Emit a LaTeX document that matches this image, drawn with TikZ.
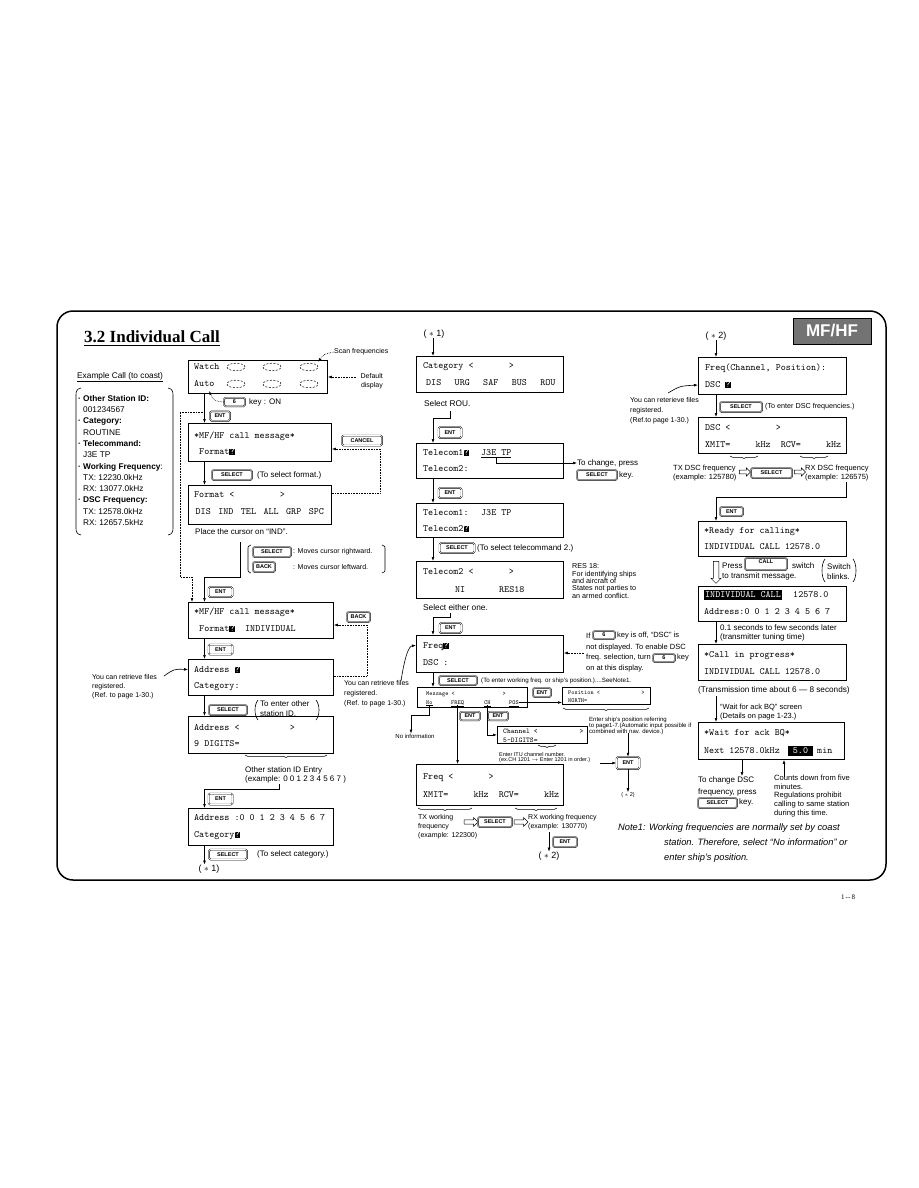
\documentclass[tikz,border=0pt]{standalone}
\usepackage{fontspec}
\setmainfont{Liberation Sans}
\newfontfamily\titlefont{Liberation Serif}
\usetikzlibrary{arrows.meta,decorations.pathreplacing,shapes.arrows}

\newcommand\curs{{\setlength\fboxsep{0.3pt}\colorbox{black}{\textcolor{white}{?}}}}
\newcommand\lcdf{\fontsize{9.6}{10}\ttfamily}
\newcommand\lcds{\fontsize{6}{7}\ttfamily}
\newcommand\lcdm{\fontsize{7.2}{8}\ttfamily}
\newcommand\keyat[6]{\node[keybox, minimum width=#4pt, minimum height=#5pt] (#1) at (#2,#3) {#6};}

\tikzset{
  lcd/.style={draw, line width=0.8pt, inner sep=0pt, anchor=north west},
  lt/.style={font=\lcdf, anchor=west, inner sep=0pt, text height=7pt, text depth=1.5pt},
  lts/.style={font=\lcds, anchor=west, inner sep=0pt, text height=4.5pt, text depth=1pt},
  ltm/.style={font=\lcdm, anchor=west, inner sep=0pt, text height=5.2pt, text depth=1.2pt},
  keybox/.style={draw, line width=0.45pt, rounded corners=1.5pt, double, double distance=0.6pt, inner sep=0pt, font=\fontsize{5.5}{6}\selectfont\bfseries},
  arr/.style={-{Latex[length=4pt,width=2.8pt]}, line width=0.6pt},
  dotarr/.style={densely dotted, -{Latex[length=4pt,width=2.8pt]}, line width=0.6pt},
  ln/.style={line width=0.6pt},
  tx/.style={inner sep=0pt, anchor=west},
  tm/.style={inner sep=0pt, anchor=north west, align=left},
  brc/.style={decorate, decoration={brace, mirror, amplitude=2.5pt}, line width=0.5pt},
  hol/.style={single arrow, draw, line width=0.5pt, inner xsep=0pt, inner ysep=1.6pt, minimum height=13pt, minimum width=8.5pt, single arrow head extend=2pt},
  dell/.style={dashed, dash pattern=on 2pt off 1.5pt, line width=0.5pt}
}

\begin{document}
\begin{tikzpicture}[x=1pt,y=-1pt]
\useasboundingbox (0,0) rectangle (918,1188);
\fill[white] (0,0) rectangle (918,1188);

% frame, title, badge
\draw[line width=1.5pt, rounded corners=16pt] (57,311) rectangle (886,880);
\node[tx, font=\titlefont\bfseries\fontsize{17}{20}\selectfont] (title) at (84,337) {3.2 Individual Call};
\draw[line width=1.3pt] ([yshift=-2pt]title.south west) -- ([yshift=-2pt]title.south east);
\node[draw, line width=1pt, fill=black!55, minimum width=78pt, minimum height=26pt, inner sep=0pt, text=white, font=\bfseries\fontsize{17}{17}\selectfont] (mfhf) at (832,331) {MF/HF};
\node[font=\titlefont\fontsize{7}{8}\selectfont, inner sep=0pt] (pg) at (848,897) {1\,--\,8};

% example list
\node[tx, font=\fontsize{8.3}{10}\selectfont] (exh) at (77,377) {\underline{Example Call (to coast)}};
\node[tm, font=\fontsize{8.3}{11.3}\selectfont] (exl) at (78,395) {%
\makebox[5pt][l]{\textbf{\textperiodcentered}}\textbf{Other Station ID:}\\
\hspace*{5pt}001234567\\
\makebox[5pt][l]{\textbf{\textperiodcentered}}\textbf{Category:}\\
\hspace*{5pt}ROUTINE\\
\makebox[5pt][l]{\textbf{\textperiodcentered}}\textbf{Telecommand:}\\
\hspace*{5pt}J3E TP\\
\makebox[5pt][l]{\textbf{\textperiodcentered}}\textbf{Working Frequency}:\\
\hspace*{5pt}TX: 12230.0kHz\\
\hspace*{5pt}RX: 13077.0kHz\\
\makebox[5pt][l]{\textbf{\textperiodcentered}}\textbf{DSC Frequency:}\\
\hspace*{5pt}TX: 12578.0kHz\\
\hspace*{5pt}RX: 12657.5kHz};
\draw[ln] (81,388) .. controls (76,389) and (76,392) .. (76,396) -- (76,527) .. controls (76,531) and (76,534) .. (81,535);
\draw[ln] (168,388) .. controls (173,389) and (173,392) .. (173,396) -- (173,527) .. controls (173,531) and (173,534) .. (168,535);

% ================= column 1 =================
\coordinate (xa) at (204.5,0);
\coordinate (xd) at (192,0);
\coordinate (xdot) at (180,0);

\node[lcd, minimum width=139pt, minimum height=33pt] (A) at (188,360) {};
\node[lt] (wA) at (194,367) {Watch};
\node[lt] (aA) at (194,384) {Auto};
\foreach \cx in {236,272,309}{\foreach \cy in {367,384}{\draw[dell] (\cx,\cy) ellipse [x radius=9pt, y radius=3.8pt];}}
\node[tx, font=\fontsize{7}{8}\selectfont] (scan) at (334,352) {Scan frequencies};
\draw[dotarr] (scan.west) .. controls (324,354) .. (318,362);
\node[inner sep=0pt, anchor=north east, align=right, font=\fontsize{7}{9}\selectfont] (dd) at (383,373) {Default\\display};
\coordinate (ddp) at (356,377);
\draw[dotarr] (ddp) -- (ddp -| A.east);

\keyat{k6a}{234.5}{402}{21}{8.5}{6}
\node[tx, font=\fontsize{8}{9}\selectfont] (k6t) at (249,402) {key : ON};
\draw[dotarr] (k6a.west) .. controls (214,401) .. (209,391);
\keyat{entA}{220}{416}{20}{9.5}{ENT}

\node[lcd, minimum width=143pt, minimum height=38pt] (B) at (188,423) {};
\node[lt] (b1) at (194,436) {*MF/HF~call~message*};
\node[lt] (b2) at (194,452) {~Format\curs};
\draw[arr] (A.south -| xa) -- (B.north -| xa);
\coordinate (brA) at (204.5,412);
\coordinate (jn) at (204.5,577);
\draw[dotarr] (brA) -- (xdot |- brA) -- (xdot |- jn) -- (jn -| xd) -- (xd |- 0,602);

\keyat{cancel}{362}{440.5}{40}{10}{CANCEL}
\keyat{selB}{232}{475}{40}{10}{SELECT}
\node[tx, font=\fontsize{8}{9}\selectfont] (selBt) at (257,475) {(To select format.)};

\node[lcd, minimum width=143pt, minimum height=39pt] (C) at (188,485) {};
\node[lt] (c1) at (194,495) {Format~<~~~~~~~~~>};
\node[lt] (c2) at (195.5,512) {DIS\hspace{7.5pt}IND\hspace{7.5pt}TEL\hspace{7.5pt}ALL\hspace{7.5pt}GRP\hspace{7.5pt}SPC};
\draw[arr] (B.south -| xa) -- (C.north -| xa);
\coordinate (cn1) at (380,493);
\coordinate (cn2) at (380,449);
\draw[dotarr] (C.east |- cn1) -- (cn1) -- (cn2) -- (B.east |- cn2);

\node[tx, font=\fontsize{8}{9}\selectfont] (place) at (195,532) {Place the cursor on ``IND''.};
\draw[ln] (251,545) .. controls (248,546) .. (248,550) -- (248,568) .. controls (248,572) .. (251,573);
\draw[ln] (382,545) .. controls (385,546) .. (385,550) -- (385,568) .. controls (385,572) .. (382,573);
\keyat{selR1}{272}{552}{38}{10}{SELECT}
\node[tx, font=\fontsize{7}{8}\selectfont] (mr) at (293,552) {: Moves cursor rightward.};
\keyat{back1}{264}{567}{22}{10}{BACK}
\node[tx, font=\fontsize{7}{8}\selectfont] (ml) at (293,567) {: Moves cursor leftward.};
\coordinate (pc) at (240,542);
\draw[arr] (pc) -- (pc |- jn) -- (jn) -- (xa |- 0,602);

\keyat{entC}{220.5}{592}{24}{10}{ENT}
\node[lcd, minimum width=145pt, minimum height=36pt] (D) at (188,602) {};
\node[lt] (d1) at (194,612) {*MF/HF~call~message*};
\node[lt] (d2) at (194,629) {~Format\curs~~INDIVIDUAL};
\keyat{back2}{358.5}{617}{23}{10}{BACK}
\keyat{entD}{220.5}{649.5}{24}{10}{ENT}
\draw[arr] (D.south -| xa) -- (xa |- 0,659);

\node[lcd, minimum width=145pt, minimum height=36pt] (E) at (188,659) {};
\node[lt] (e1) at (194,670) {Address~\curs};
\node[lt] (e2) at (194,686) {Category:};
\coordinate (bk1) at (367,676);
\coordinate (bk2) at (367,625);
\draw[dotarr] (E.east |- bk1) -- (bk1) -- (bk2) -- (D.east |- bk2);
\node[tm, font=\fontsize{7}{9}\selectfont] (ltE) at (92,674) {You can retrieve files\\registered.\\(Ref. to page 1-30.)};
\coordinate (ce1) at (164,676);
\draw[arr] (ce1) .. controls (174,669) .. ([yshift=-10.5pt]E.north west);

\keyat{selE}{228}{710}{38}{10}{SELECT}
\draw[ln] (258,700) .. controls (254,705) and (254,715) .. (258,720);
\draw[ln] (316,700) .. controls (320,705) and (320,715) .. (316,720);
\node[tm, font=\fontsize{8}{10}\selectfont] (selEt) at (260,700) {To enter other\\station ID.};
\draw[arr] (E.south -| xa) -- (xa |- 0,716);

\node[lcd, minimum width=145pt, minimum height=37pt] (F) at (188,716) {};
\node[lt] (f1) at (194,728) {Address~<~~~~~~~~~~>};
\node[lt] (f2) at (194,744) {9~DIGITS=};
\draw[brc] (245,755) -- (327,755);
\node[tm, font=\fontsize{8}{9}\selectfont] (osid) at (245,766) {Other station ID Entry\\(example: 0 0 1 2 3 4 5 6 7 )};
\coordinate (os1) at (279,784);
\coordinate (os2) at (279,789);
\keyat{entF}{220.5}{799}{24}{11}{ENT}
\node[lcd, minimum width=145pt, minimum height=37pt] (G) at (188,808) {};
\draw[arr] (os1) -- (os2) -- (os2 -| xa) -- (G.north -| xa);
\node[lt] (g1) at (194,818) {Address~:0~0~1~2~3~4~5~6~7};
\node[lt] (g2) at (194,835) {Category\curs};
\keyat{selG}{228}{854.5}{38}{10}{SELECT}
\node[tx, font=\fontsize{8}{9}\selectfont] (selGt) at (257,854.5) {(To select category.)};
\node[font=\fontsize{9}{10}\selectfont, inner sep=0pt] (st1a) at (209,869) {( $\ast$ 1)};
\draw[arr] (G.south -| xa) -- (xa |- st1a.north);

% ================= column 2 =================
\coordinate (xm) at (433,0);
\node[font=\fontsize{9}{10}\selectfont, inner sep=0pt] (st1b) at (434,334) {( $\ast$ 1)};
\node[lcd, minimum width=147pt, minimum height=36pt] (H) at (416,356) {};
\draw[arr] (xm |- st1b.south) -- (H.north -| xm);
\node[lt] (h1) at (423,366) {Category~<~~~~~~~>};
\node[lt] (h2) at (426,383) {DIS\hspace{13.4pt}URG\hspace{13.4pt}SAF\hspace{13.4pt}BUS\hspace{13.4pt}ROU};
\node[tx, font=\fontsize{8.3}{9}\selectfont] (srou) at (424,404) {Select ROU.};
\coordinate (sr1) at (450,411);
\coordinate (sr2) at (450,418);
\keyat{entH}{450}{432.5}{23}{11}{ENT}
\node[lcd, minimum width=147pt, minimum height=35pt] (I) at (416,443) {};
\draw[arr] (sr1) -- (sr2) -- (sr2 -| xm) -- (I.north -| xm);
\node[lt] (i1) at (423,453) {Telecom1\curs};
\node[lt] (j3e) at (481,453) {\underline{J3E~TP}};
\node[lt] (i2) at (423,469) {Telecom2:};
\node[tx, font=\fontsize{8}{9}\selectfont] (tcp) at (577,463) {To change, press};
\draw[arr] (j3e.south) |- (tcp.west);
\keyat{selI}{597}{475}{40}{10}{SELECT}
\node[tx, font=\fontsize{8}{9}\selectfont] (selIt) at (619,475) {key.};
\keyat{entI}{450}{493}{23}{10}{ENT}
\node[lcd, minimum width=147pt, minimum height=34pt] (J) at (416,503) {};
\draw[arr] (I.south -| xm) -- (J.north -| xm);
\node[lt] (j1) at (423,513) {Telecom1:};
\node[lt] (j3e2) at (481,513) {J3E~TP};
\node[lt] (j2) at (423,529) {Telecom2\curs};
\keyat{selJ}{457}{548}{35}{10}{SELECT}
\node[tx, font=\fontsize{8}{9}\selectfont] (selJt) at (477,548) {(To select telecommand 2.)};
\node[lcd, minimum width=147pt, minimum height=37pt] (K) at (416,561) {};
\draw[arr] (J.south -| xm) -- (K.north -| xm);
\node[lt] (k1) at (423,572) {Telecom2~<~~~~~~~>};
\node[lt] (k2) at (455,590) {NI};
\node[lt] (k3) at (499,590) {RES18};
\node[tm, font=\fontsize{7.2}{7.4}\selectfont] (res) at (572,563.5) {RES 18:\\For identifying ships\\and aircraft of\\States not parties to\\an armed conflict.};
\node[tx, font=\fontsize{8.3}{9}\selectfont] (seo) at (423,608) {Select either one.};
\coordinate (se1) at (450,613);
\coordinate (se2) at (450,617);
\keyat{entK}{450.5}{628}{22}{10}{ENT}
\node[lcd, minimum width=147pt, minimum height=37pt] (L) at (416,635) {};
\draw[arr] (se1) -- (se2) -- (se2 -| xm) -- (L.north -| xm);
\node[lt] (l1) at (423,646) {Freq\curs};
\node[lt] (l2) at (423,663) {DSC~:};

\node[tx, font=\fontsize{7.5}{8}\selectfont] (n1a) at (586,636) {If};
\keyat{k6b}{604}{635}{22}{8}{6}
\node[tx, font=\fontsize{7.5}{8}\selectfont] (n1b) at (617,636) {key is off, ``DSC'' is};
\node[tx, font=\fontsize{7.5}{8}\selectfont] (n2) at (586,647.5) {not displayed. To enable DSC};
\node[tx, font=\fontsize{7.5}{8}\selectfont] (n3a) at (586,658) {freq. selection, turn};
\keyat{k6c}{664}{658}{22}{8}{6}
\node[tx, font=\fontsize{7.5}{8}\selectfont] (n3b) at (677,658) {key};
\node[tx, font=\fontsize{7.5}{8}\selectfont] (n4) at (586,668.5) {on at this display.};
\coordinate (nd) at (584,653);
\draw[dotarr] (nd) -- (nd -| L.east);

\node[tm, font=\fontsize{7}{10}\selectfont] (rtE) at (344,680) {You can retrieve files\\registered.\\(Ref. to page 1-30.)};
\coordinate (rl) at (401,681);
\draw[arr] (rl) .. controls (405,655) and (409,646) .. ([yshift=-10.5pt]L.north west);

\keyat{selL}{458}{680.5}{38}{9}{SELECT}
\node[tx, font=\fontsize{6.2}{7}\selectfont] (selLt) at (481,680.5) {(To enter working freq. or ship's position.)....SeeNote1.};

\node[lcd, minimum width=110pt, minimum height=20pt] (Msg) at (417,687) {};
\draw[arr] (L.south -| xm) -- (Msg.north -| xm);
\node[lts] (m1) at (426,693.5) {Message~<~~~~~~~~~~~~~~~>};
\node[lts] (nNo) at (426,702.5) {\underline{No}};
\node[lts] (nFREQ) at (451,702.5) {\underline{FREQ}};
\node[lts] (nCH) at (484,702.5) {\underline{CH}};
\node[lts] (nPOS) at (509,702.5) {\underline{POS}};
\keyat{entMsg}{542}{692.5}{18}{9}{ENT}
\node[lcd, minimum width=88pt, minimum height=17pt] (Pos) at (562,687) {};
\node[lts] (p1) at (568,692.5) {Position~<~~~~~~~~~~~~~>};
\node[lts] (p2) at (568,700.5) {NORTH=};
\draw[arr] (nPOS.east) -- (Pos.west |- nPOS.east);
\draw[brc] (563,708) -- (649,708);
\node[tm, font=\fontsize{6}{6}\selectfont] (ep) at (589,716.5) {Enter ship's position referring\\to page1-7.(Automatic input possible if\\combined with nav. device.)};

\node[inner sep=0pt, font=\fontsize{6}{7}\selectfont] (noinf) at (415,736) {No information};
\coordinate (no1) at (429,715);
\coordinate (no2) at (411,715);
\draw[arr] (nNo.south -| no1) -- (no1) -- (no2) -- (no2 |- noinf.north);

\keyat{entF1}{470}{716}{20}{8.5}{ENT}
\keyat{entF2}{498}{716}{20}{8.5}{ENT}
\node[lcd, minimum width=90pt, minimum height=17pt] (Chan) at (497,726) {};
\node[ltm] (ch1) at (503,731.5) {Channel~<~~~~~~~~~~~>};
\node[ltm] (ch2) at (503,740) {5-DIGITS=};
\draw[arr] (nCH.south) |- (Chan.west);
\draw[brc] (538,745) -- (556,745);
\node[tm, font=\fontsize{5.5}{5.6}\selectfont] (itu) at (499,752) {Enter ITU channel number.\\(ex.CH 1201 $\rightarrow$ Enter 1201 in order.)};
\keyat{entCh}{628}{763}{23}{12}{ENT}
\coordinate (ec) at (600,763);
\draw[arr] (ec) -- (entCh.west);
\coordinate (ep1) at (628,733);
\draw[arr] (ep1) -- (entCh.north);
\node[inner sep=0pt, font=\fontsize{5.5}{6}\selectfont] (st2s) at (628,795) {( $\ast$ 2)};
\draw[arr] (entCh.south) -- (st2s.north);

\node[lcd, minimum width=147pt, minimum height=41pt] (Fq) at (416,764) {};
\draw[arr] (nFREQ.south) -- (nFREQ.south |- Fq.north);
\node[lt] (fq1) at (423,777) {Freq~<~~~~~~~>};
\node[lt] (fq2) at (423,795) {XMIT=~~~~~kHz~~RCV=~~~~~kHz};
\draw[brc] (418,808) -- (472,808);
\draw[brc] (515,808) -- (557,808);
\node[tm, font=\fontsize{7}{9}\selectfont] (txw) at (418,814) {TX working\\frequency\\(example: 122300)};
\node[hol, minimum height=14pt, minimum width=9pt] (ha1) at (470,822) {};
\keyat{selFq}{495}{822}{34}{10}{SELECT}
\node[hol, minimum height=14pt, minimum width=9pt] (ha2) at (520,822) {};
\node[tm, font=\fontsize{7}{9}\selectfont] (rxw) at (528,814) {RX working frequency\\(example: 130770)};
\coordinate (rx1) at (549,832);
\node[font=\fontsize{9}{10}\selectfont, inner sep=0pt] (st2m) at (549,856) {( $\ast$ 2)};
\draw[arr] (rx1) -- (st2m.north);
\keyat{entFq}{565}{842}{24}{10}{ENT}

\node[tx, font=\fontsize{9.3}{10}\selectfont\itshape] (note1) at (618,828) {Note1: Working frequencies are normally set by coast};
\node[tm, font=\fontsize{9.3}{14.5}\selectfont\itshape] (note2) at (664,839) {station. Therefore, select ``No information'' or\\enter ship's position.};

% ================= column 3 =================
\coordinate (xr) at (716,0);
\node[font=\fontsize{9}{10}\selectfont, inner sep=0pt] (st2r) at (716,336) {( $\ast$ 2)};
\node[lcd, minimum width=148pt, minimum height=37pt] (M) at (698,357) {};
\draw[arr] (xr |- st2r.south) -- (M.north -| xr);
\node[lt] (m1r) at (705,368) {Freq(Channel,~Position):};
\node[lt] (m2r) at (705,385) {DSC~\curs};
\node[tm, font=\fontsize{7}{10}\selectfont] (rtM) at (630,397) {You can reterieve files\\registered.\\(Ref.to page 1-30.)};
\coordinate (rc) at (668,393);
\draw[arr] (rc) .. controls (680,386) .. ([yshift=-28pt]M.north west);
\keyat{selM}{741}{407}{42}{10}{SELECT}
\node[tx, font=\fontsize{7.2}{8}\selectfont] (selMt) at (765,407) {(To enter DSC frequencies.)};
\node[lcd, minimum width=148pt, minimum height=36pt] (N) at (698,417) {};
\draw[arr] (M.south -| xr) -- (N.north -| xr);
\node[lt] (n1r) at (705,428) {DSC~<~~~~~~~~~>};
\node[lt] (n2r) at (705,445) {XMIT=~~~~~kHz~~RCV=~~~~~kHz};
\draw[brc] (730,456) -- (758,456);
\draw[brc] (800,456) -- (828,456);
\node[tm, font=\fontsize{7.5}{9}\selectfont] (txd) at (673,465) {TX DSC frequency\\(example: 125780)};
\node[hol, minimum height=11pt, minimum width=8pt] (ha3) at (744,472) {};
\keyat{selN}{771.5}{473}{41}{10}{SELECT}
\node[hol, minimum height=11pt, minimum width=8pt] (ha4) at (799,472) {};
\node[tm, font=\fontsize{7.5}{9}\selectfont] (rxd) at (805,465) {RX DSC frequency\\(example: 126575)};
\coordinate (rd1) at (846,482);
\coordinate (rd2) at (846,497);
\keyat{entN}{731.5}{511.5}{23}{9}{ENT}
\node[lcd, minimum width=148pt, minimum height=35pt] (O) at (698,521) {};
\draw[arr] (rd1) -- (rd2) -- (rd2 -| xr) -- (O.north -| xr);
\node[lt] (o1) at (704,531) {*Ready~for~calling*};
\node[lt] (o2) at (704,547) {INDIVIDUAL~CALL~12578.0};

\node[single arrow, draw, line width=0.5pt, inner xsep=0pt, inner ysep=2.2pt, minimum height=22pt, minimum width=10pt, single arrow head extend=2pt, rotate=-90] (hd) at (716,571) {};
\node[tx, font=\fontsize{8}{9}\selectfont] (pr1) at (722,566) {Press};
\node[keybox, minimum width=42pt, minimum height=12pt, text height=4pt, text depth=5pt] (call) at (766,564) {CALL};
\node[tx, font=\fontsize{8}{9}\selectfont] (pr2) at (792,566) {switch};
\node[tx, font=\fontsize{8}{9}\selectfont] (pr3) at (722,576.5) {to transmit message.};
\draw[ln] (825,559) .. controls (821,564) and (821,577) .. (825,582);
\draw[ln] (853,559) .. controls (857,564) and (857,577) .. (853,582);
\node[tm, font=\fontsize{8}{10}\selectfont] (swb) at (827,563) {Switch\\blinks.};

\node[lcd, minimum width=148pt, minimum height=35pt] (P) at (698,586) {};
\node[lt, fill=black, text=white, inner xsep=1pt, inner ysep=0.5pt] (inv) at (704,595) {INDIVIDUAL~CALL};
\node[lt] (p1r) at (793,595) {12578.0};
\node[lt] (p2r) at (704,612) {Address:0~0~1~2~3~4~5~6~7};
\node[tm, font=\fontsize{8}{9}\selectfont] (tun) at (720,624) {0.1 seconds to few seconds later\\(transmitter tuning time)};
\node[lcd, minimum width=148pt, minimum height=36pt] (Q) at (698,644) {};
\draw[arr] (P.south -| xr) -- (Q.north -| xr);
\node[lt] (q1) at (704,655) {*Call~in~progress*};
\node[lt] (q2) at (704,672) {INDIVIDUAL~CALL~12578.0};
\node[tx, font=\fontsize{8.2}{9}\selectfont] (trt) at (698,690) {(Transmission time about 6 --- 8 seconds)};
\node[tm, font=\fontsize{7.5}{8.5}\selectfont] (wfa) at (720,704) {``Wait for ack BQ'' screen\\(Details on page 1-23.)};
\node[lcd, minimum width=146pt, minimum height=37pt] (R) at (698,722) {};
\coordinate (tt1) at (716,696);
\draw[arr] (tt1) -- (R.north -| xr);
\node[lt] (r1) at (704,733) {*Wait~for~ack~BQ*};
\node[lt] (r2) at (704,751) {Next~12578.0kHz};
\node[lt, fill=black, text=white, inner xsep=5pt, inner ysep=0.3pt, anchor=center] (n5) at (800.5,751) {5.0};
\node[lt] (r3) at (817,751) {min};
\coordinate (xc) at (742,0);
\node[tx, font=\fontsize{8}{9}\selectfont] (tcd1) at (698,780) {To change DSC};
\node[tx, font=\fontsize{8}{9}\selectfont] (tcd2) at (698,792) {frequency, press};
\keyat{selR}{717.5}{803}{39}{10}{SELECT}
\node[tx, font=\fontsize{8}{9}\selectfont] (tcd3) at (739,802) {key.};
\draw[arr] (R.south -| xc) -- (xc |- tcd1.north);
\coordinate (cd) at (784,777);
\draw[arr] (cd) -- (R.south -| cd);
\node[tm, font=\fontsize{7.6}{8.6}\selectfont] (cnt) at (774,775) {Counts down from five\\minutes.\\Regulations prohibit\\calling to same station\\during this time.};
\end{tikzpicture}
\end{document}
